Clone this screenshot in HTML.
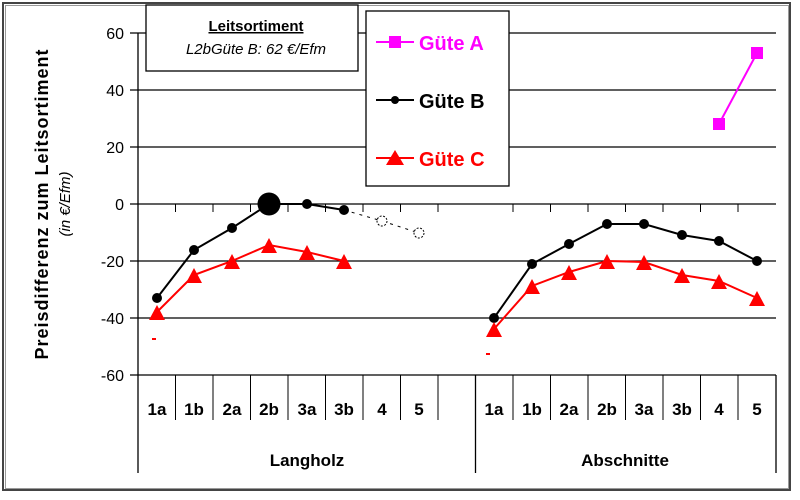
<!DOCTYPE html>
<html><head><style>body{margin:0;background:#fff}svg{display:block}</style></head><body>
<svg width="800" height="500" xmlns="http://www.w3.org/2000/svg" font-family="Liberation Sans, Arial, sans-serif">
<rect x="0" y="0" width="800" height="500" fill="#fff"/>
<rect x="3" y="3" width="787" height="487" fill="none" stroke="#444" stroke-width="2"/>
<rect x="5.5" y="5.5" width="783" height="483" fill="none" stroke="#999" stroke-width="1"/>
<g stroke="#000" stroke-width="1.3">
<line x1="130" y1="33" x2="776" y2="33"/>
<line x1="130" y1="90" x2="776" y2="90"/>
<line x1="130" y1="147" x2="776" y2="147"/>
<line x1="130" y1="204" x2="776" y2="204"/>
<line x1="130" y1="261" x2="776" y2="261"/>
<line x1="130" y1="318" x2="776" y2="318"/>
<line x1="130" y1="375" x2="776" y2="375"/>
<line x1="138" y1="33" x2="138" y2="473"/>
<line x1="475.5" y1="375" x2="475.5" y2="473"/>
<line x1="776" y1="375" x2="776" y2="473"/>
</g>
<g stroke="#000" stroke-width="1">
<path d="M175.5 375v45M213 375v45M250.5 375v45M288 375v45M325.5 375v45M363 375v45M400.5 375v45M438 375v45M513 375v45M550.5 375v45M588 375v45M625.5 375v45M663 375v45M700.5 375v45M738 375v45"/>
<path d="M175.5 204v8M213 204v8M250.5 204v8M288 204v8M325.5 204v8M363 204v8M400.5 204v8M438 204v8M513 204v8M550.5 204v8M588 204v8M625.5 204v8M663 204v8M700.5 204v8M738 204v8"/>
</g>
<g font-size="16" text-anchor="end" fill="#000">
<text x="124" y="39">60</text><text x="124" y="96">40</text><text x="124" y="153">20</text><text x="124" y="210">0</text>
<text x="124" y="267">-20</text><text x="124" y="324">-40</text><text x="124" y="381">-60</text>
</g>
<g font-size="17" font-weight="bold" text-anchor="middle">
<text x="157" y="415">1a</text><text x="194" y="415">1b</text><text x="232" y="415">2a</text><text x="269" y="415">2b</text><text x="307" y="415">3a</text><text x="344" y="415">3b</text><text x="382" y="415">4</text><text x="419" y="415">5</text>
<text x="494" y="415">1a</text><text x="532" y="415">1b</text><text x="569" y="415">2a</text><text x="607" y="415">2b</text><text x="644" y="415">3a</text><text x="682" y="415">3b</text><text x="719" y="415">4</text><text x="757" y="415">5</text>
<text x="307" y="466">Langholz</text><text x="625" y="466">Abschnitte</text>
</g>
<text transform="translate(48,204) rotate(-90)" font-size="18" font-weight="bold" text-anchor="middle" letter-spacing="1">Preisdifferenz zum Leitsortiment</text>
<text transform="translate(70,204) rotate(-90)" font-size="15" font-style="italic" text-anchor="middle">(in €/Efm)</text>
<rect x="146" y="5" width="212" height="66" fill="#fff" stroke="#000" stroke-width="1.3"/>
<text x="256" y="31" font-size="15" font-weight="bold" text-anchor="middle" text-decoration="underline">Leitsortiment</text>
<text x="256" y="54" font-size="15" font-style="italic" text-anchor="middle">L2bGüte B: 62 €/Efm</text>
<rect x="366" y="11" width="143" height="175" fill="#fff" stroke="#000" stroke-width="1.3"/>
<line x1="376" y1="42" x2="414" y2="42" stroke="#f0f" stroke-width="2"/><rect x="389" y="36" width="12" height="12" fill="#f0f"/>
<text x="419" y="50" font-size="20" font-weight="bold" fill="#f0f">Güte A</text>
<line x1="376" y1="100" x2="414" y2="100" stroke="#000" stroke-width="2"/><circle cx="395" cy="100" r="4"/>
<text x="419" y="108" font-size="20" font-weight="bold">Güte B</text>
<line x1="376" y1="158" x2="414" y2="158" stroke="#f00" stroke-width="2"/><path d="M386 165L395 150L404 165Z" fill="#f00"/>
<text x="419" y="166" font-size="20" font-weight="bold" fill="#f00">Güte C</text>
<polyline points="719,124 757,53" fill="none" stroke="#f0f" stroke-width="2"/>
<rect x="713" y="118" width="12" height="12" fill="#f0f"/><rect x="751" y="47" width="12" height="12" fill="#f0f"/>
<polyline points="157,298 194,250 232,228 269,204 307,204 344,210" fill="none" stroke="#000" stroke-width="2"/>
<polyline points="344,210 382,221 419,233" fill="none" stroke="#000" stroke-width="1" stroke-dasharray="3,5"/>
<g fill="#000"><circle cx="157" cy="298" r="5"/><circle cx="194" cy="250" r="5"/><circle cx="232" cy="228" r="5"/><circle cx="269" cy="204" r="11.5"/><circle cx="307" cy="204" r="5"/><circle cx="344" cy="210" r="5"/></g>
<g fill="#fff" stroke="#000" stroke-dasharray="2,1.5"><circle cx="382" cy="221" r="5"/><circle cx="419" cy="233" r="5"/></g>
<polyline points="157,312 194,275 232,261 269,245 307,252 344,261" fill="none" stroke="#f00" stroke-width="2"/>
<g fill="#f00"><path d="M149 320l8-15l8 15z"/><path d="M186 283l8-15l8 15z"/><path d="M224 269l8-15l8 15z"/><path d="M261 253l8-15l8 15z"/><path d="M299 260l8-15l8 15z"/><path d="M336 269l8-15l8 15z"/>
<rect x="152" y="338" width="4" height="2"/><rect x="486" y="353" width="4" height="2"/></g>
<polyline points="494,318 532,264 569,244 607,224 644,224 682,235 719,241 757,261" fill="none" stroke="#000" stroke-width="2"/>
<g fill="#000"><circle cx="494" cy="318" r="5"/><circle cx="532" cy="264" r="5"/><circle cx="569" cy="244" r="5"/><circle cx="607" cy="224" r="5"/><circle cx="644" cy="224" r="5"/><circle cx="682" cy="235" r="5"/><circle cx="719" cy="241" r="5"/><circle cx="757" cy="261" r="5"/></g>
<polyline points="494,329 532,286 569,272 607,261 644,262 682,275 719,281 757,298" fill="none" stroke="#f00" stroke-width="2"/>
<g fill="#f00"><path d="M486 337l8-15l8 15z"/><path d="M524 294l8-15l8 15z"/><path d="M561 280l8-15l8 15z"/><path d="M599 269l8-15l8 15z"/><path d="M636 270l8-15l8 15z"/><path d="M674 283l8-15l8 15z"/><path d="M711 289l8-15l8 15z"/><path d="M749 306l8-15l8 15z"/></g>
</svg>
</body></html>
